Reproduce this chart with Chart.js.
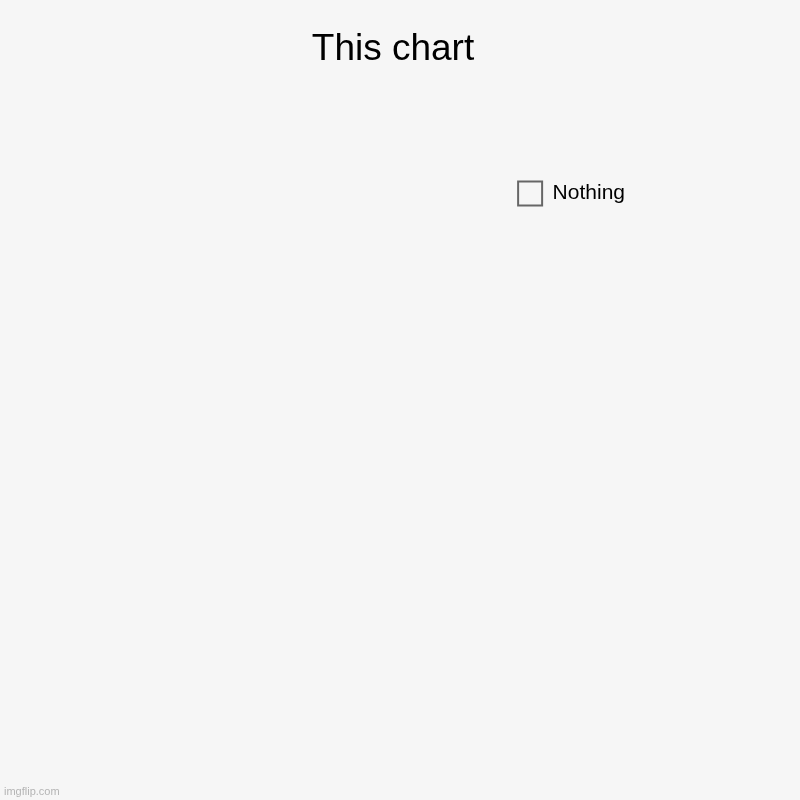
<!DOCTYPE html>
<html>
<head>
<meta charset="utf-8">
<script src="https://cdn.jsdelivr.net/npm/chart.js@4"></script>
<style>
  html, body { margin: 0; padding: 0; background: #f6f6f6; }
  #wrap { width: 800px; height: 800px; position: relative; }
</style>
</head>
<body>
<div id="wrap"><canvas id="PieChart"></canvas></div>
<script>
const categories = ['Nothing'];
const values = [0]; // the single slice has no value, so no pie is drawn
const chartTitle = 'This chart';

// little watermark in the bottom-left corner
const watermark = {
  id: 'watermark',
  afterDraw(chart) {
    const c = chart.ctx;
    c.save();
    c.font = '11px "Liberation Sans", Arial, sans-serif';
    c.fillStyle = '#b4b4b4';
    c.textBaseline = 'alphabetic';
    c.fillText('imgflip.com', 4, 795);
    c.restore();
  }
};

const ctx = document.getElementById('PieChart')
const PieChart = new Chart(ctx, {
  type: 'pie',
  data: {
    labels: categories,
    datasets: [{
      data: values,
      backgroundColor: ['rgba(0, 0, 0, 0)'],
      borderColor: ['#666666'],
      borderWidth: 2
    }]
  },
  options: {
    responsive: true,
    maintainAspectRatio: false,
    animation: false,
    layout: {
      padding: { left: 151, right: 165, top: 0, bottom: 0 }
    },
    plugins: {
      legend: {
        position: 'right',
        align: 'start',
        fullSize: false,
        labels: {
          boxWidth: 24,
          boxHeight: 24,
          padding: 10,
          color: '#000',
          font: { family: '"Liberation Sans", Arial, sans-serif', size: 21 }
        }
      },
      title: {
        display: true,
        text: chartTitle,
        color: '#000',
        font: { family: '"Liberation Sans", Arial, sans-serif', size: 37, weight: 'normal' },
        padding: { top: 28, bottom: 99 }
      },
      tooltip: { enabled: false }
    }
  },
  plugins: [watermark]
});
</script>
</body>
</html>
